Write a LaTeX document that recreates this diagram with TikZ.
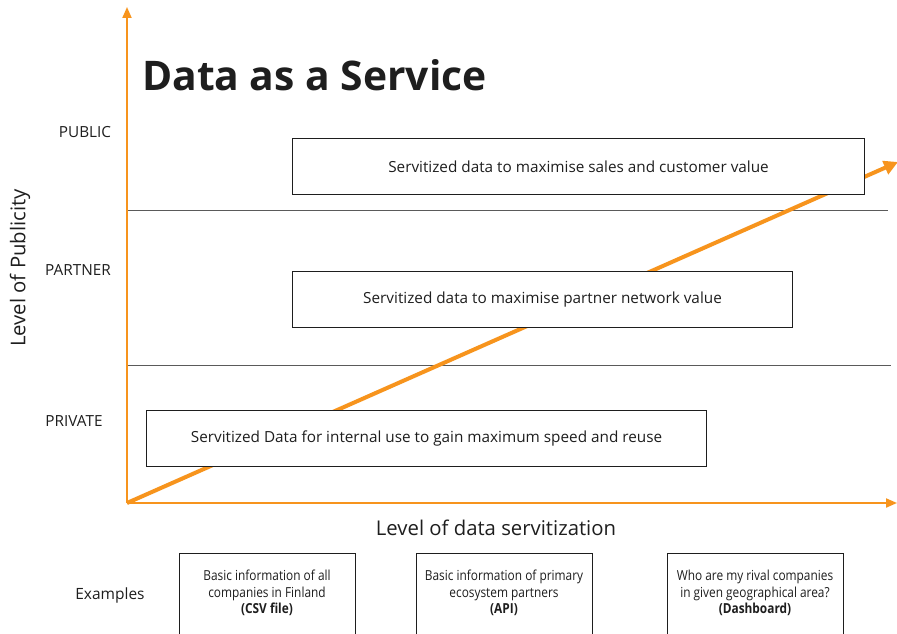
\documentclass[tikz,border=0pt]{standalone}
\usepackage{fontspec}
\setmainfont{Open Sans}
\newfontfamily\condfont[FakeStretch=0.86]{Open Sans}
\usetikzlibrary{arrows.meta}
\definecolor{axisorange}{RGB}{247,148,29}
\definecolor{txt}{RGB}{30,30,30}
\definecolor{sep}{RGB}{90,90,90}
\tikzset{
  axisline/.style={draw=axisorange, line width=2pt, -{Triangle[length=11pt,width=9pt]}},
  diagline/.style={draw=axisorange, line width=4pt, -{Triangle[length=14pt,width=14pt]}},
  sepline/.style={draw=sep, line width=0.9pt},
  bandbox/.style={draw=txt, fill=white, line width=1.1pt, minimum height=56pt, anchor=north west, inner sep=0pt, font=\fontsize{15.3}{18}\selectfont, text=txt},
  exbox/.style={draw=txt, fill=white, line width=1.1pt, minimum width=176pt, minimum height=100pt, anchor=north west, inner sep=0pt},
  extext/.style={align=center, font=\condfont\fontsize{13.8}{16.5}\selectfont, text=txt},
  levellabel/.style={font=\fontsize{15.3}{18}\selectfont, text=txt},
  axislabel/.style={font=\fontsize{20.3}{24}\selectfont, text=txt},
}
\begin{document}
\begin{tikzpicture}[x=1pt,y=-1pt]
\useasboundingbox (0,0) rectangle (897,634);
\clip (0,0) rectangle (897,634);
\fill[white] (0,0) rectangle (897,634);

\coordinate (o) at (127,503);
\coordinate (ytop) at (127,7);
\coordinate (xend) at (897,503);
\coordinate (dend) at (898,162);
\coordinate (s1a) at (128,210);
\coordinate (s1b) at (888,210);
\coordinate (s2a) at (128,365);
\coordinate (s2b) at (891,365);

% title
\node[anchor=base west, inner sep=0pt, font=\bfseries\fontsize{40.8}{46}\selectfont, text=txt] (title) at (142,90) {Data as a Service};

% level labels
\node[levellabel] (public) at (85,132) {PUBLIC};
\node[levellabel] (partner) at (78,270) {PARTNER};
\node[levellabel] (private) at (74,421) {PRIVATE};
\node[axislabel, rotate=90] (ylab) at (20,268) {Level of Publicity};
\node[axislabel] (xlab) at (496,528) {Level of data servitization};

% separators
\draw[sepline] (s1a) -- (s1b);
\draw[sepline] (s2a) -- (s2b);

% axes
\draw[axisline] (o) -- (ytop);
\draw[axisline] (o) -- (xend);
\draw[diagline] (o) -- (dend);

% band boxes
\node[bandbox, minimum width=572pt] (b1) at (292,138) {Servitized data to maximise sales and customer value};
\node[bandbox, minimum width=500pt] (b2) at (292,271) {Servitized data to maximise partner network value};
\node[bandbox, minimum width=560pt] (b3) at (146,410) {Servitized Data for internal use to gain maximum speed and reuse};

% examples
\node[font=\fontsize{15.5}{18}\selectfont, text=txt] (examples) at (110,595) {Examples};
\node[exbox] (e1) at (179,553) {};
\node[exbox] (e2) at (416,553) {};
\node[exbox] (e3) at (667,553) {};
\node[extext] (t1) at (267,593) {Basic information of all\\companies in Finland\\\textbf{(CSV file)}};
\node[extext] (t2) at (504,593) {Basic information of primary\\ecosystem partners\\\textbf{(API)}};
\node[extext] (t3) at (755,593) {Who are my rival companies\\in given geographical area?\\\textbf{(Dashboard)}};
\end{tikzpicture}
\end{document}
